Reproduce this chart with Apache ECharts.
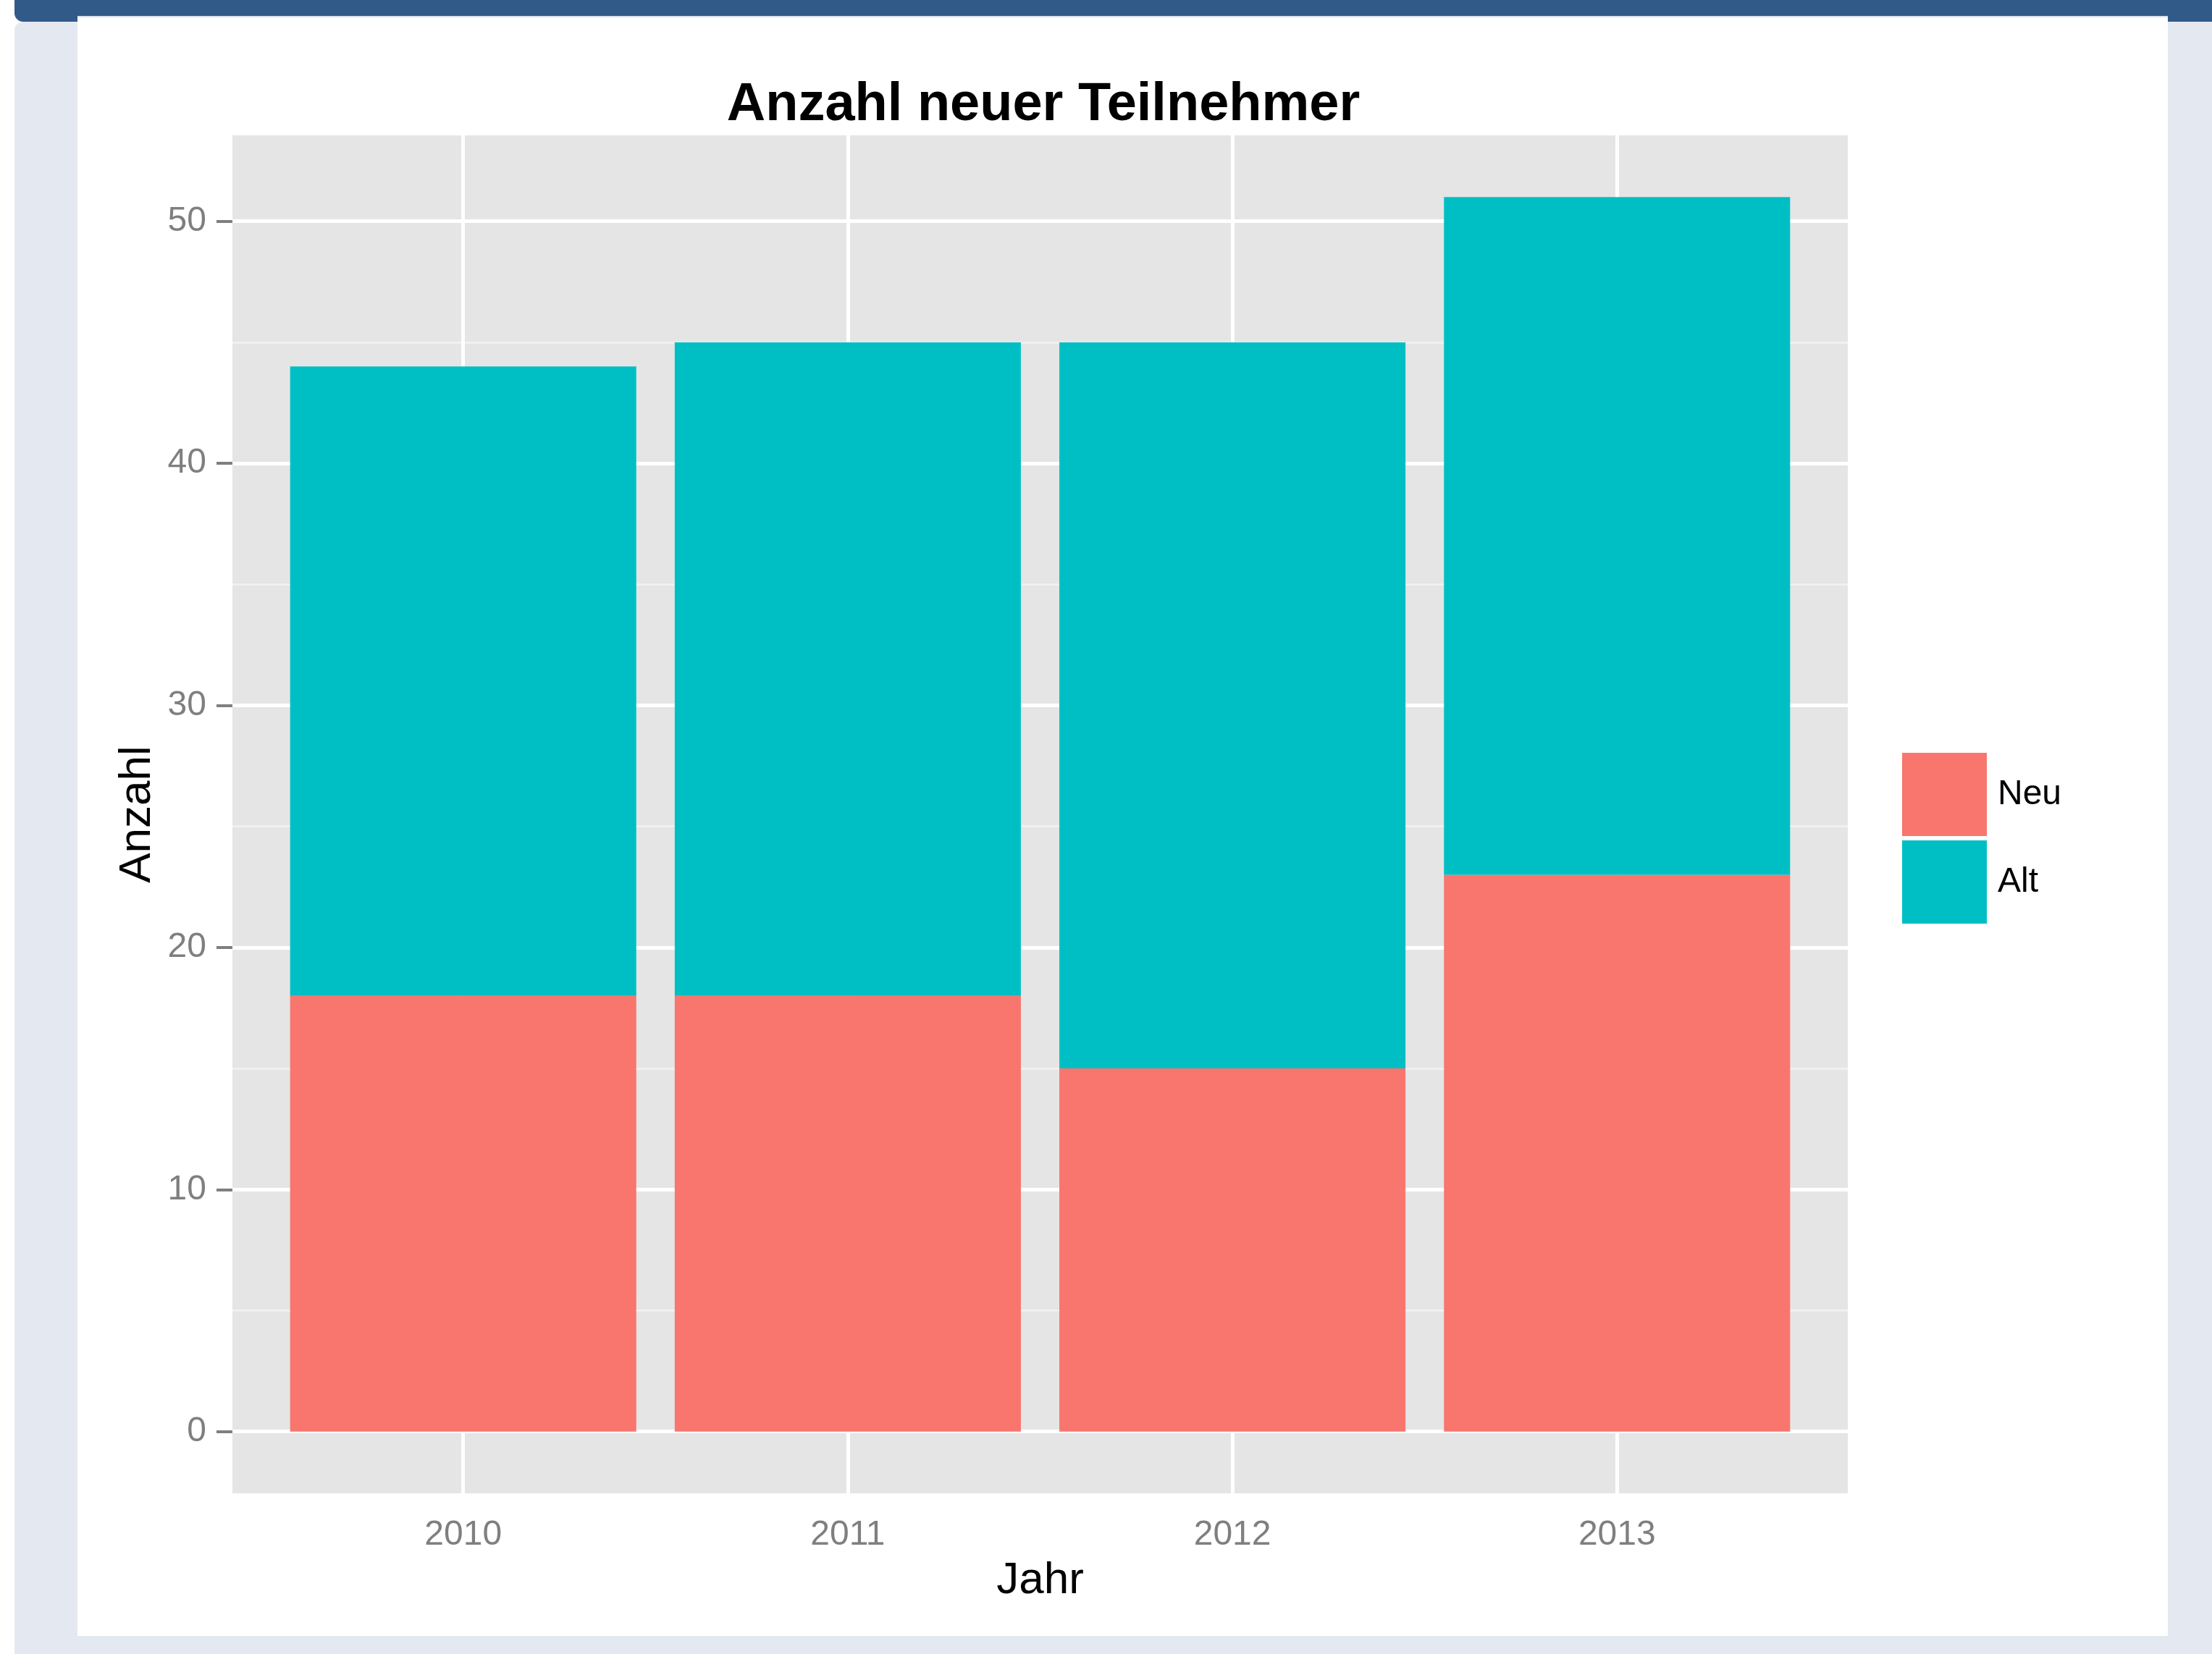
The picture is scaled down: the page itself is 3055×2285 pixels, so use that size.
<!DOCTYPE html>
<html>
<head>
<meta charset="utf-8">
<title>Anzahl neuer Teilnehmer</title>
<script src="https://cdn.jsdelivr.net/npm/echarts@6/dist/echarts.min.js"></script>
<style>
  html, body { margin: 0; padding: 0; background: #fff; }
  #page { position: relative; width: 3055px; height: 2285px; overflow: hidden; }
  .topbar { position: absolute; left: 20px; top: 0; right: 0; height: 30px; background: #325a89; border-bottom-left-radius: 12px; }
  .frame { position: absolute; left: 20px; top: 30px; right: 0; bottom: 0; background: #e4e9f1; border-top-left-radius: 12px; }
  .panel { position: absolute; left: 107px; top: 22px; right: 61px; bottom: 25px; background: #fff; border-top: 2px solid #dbe2ec; }
  #chart { position: absolute; left: 0; top: 0; width: 3055px; height: 2285px; }
</style>
</head>
<body>
<div id="page">
  <div class="topbar"></div>
  <div class="frame"></div>
  <div class="panel"></div>
  <div id="chart"></div>
</div>
<script>
// Daten
const years = ['2010', '2011', '2012', '2013']
const neu = [18, 18, 15, 23]
const alt = [26, 27, 30, 28]
const yTicks = [0, 10, 20, 30, 40, 50]
const yMinorTicks = [5, 15, 25, 35, 45]

const font = 'Liberation Sans, Arial, Helvetica, sans-serif'
const xPos = years.map((y, i) => i + 1)

let myChart = echarts.init(document.getElementById('chart'))

// Gitterlinien wie bei ggplot (unter den Balken)
const gridLines = [
  ...yTicks.map(v => ({ yAxis: v, lineStyle: { color: '#ffffff', width: 5, type: 'solid' } })),
  ...yMinorTicks.map(v => ({ yAxis: v, lineStyle: { color: '#f2f2f2', width: 2.5, type: 'solid' } })),
  ...xPos.map(v => ({ xAxis: v, lineStyle: { color: '#ffffff', width: 5, type: 'solid' } }))
]

// Wert zuerst, damit auf y gestapelt wird (x ist hier auch eine Werteachse)
const toData = (arr) => arr.map((v, i) => [v, xPos[i]])

let option = {
  animation: false,
  title: {
    text: 'Anzahl neuer Teilnehmer',
    left: 1436,
    top: 104,
    textAlign: 'center',
    textStyle: { fontFamily: font, fontSize: 74, fontWeight: 'bold', color: '#000' }
  },
  legend: {
    orient: 'vertical',
    left: 2622,
    top: 1035,
    icon: 'rect',
    itemWidth: 117,
    itemHeight: 115,
    itemGap: 6,
    data: ['Neu', 'Alt'],
    textStyle: { fontFamily: font, fontSize: 48, color: '#000', padding: [0, 0, 0, 10] }
  },
  grid: {
    left: 321,
    right: 503,
    top: 187,
    bottom: 222,
    show: true,
    backgroundColor: '#e5e5e5',
    borderWidth: 0,
    containLabel: false
  },
  xAxis: {
    type: 'value',
    min: 0.4,
    max: 4.6,
    name: 'Jahr',
    nameLocation: 'middle',
    nameGap: 90,
    nameTextStyle: { fontFamily: font, fontSize: 62, color: '#000' },
    splitLine: { show: false },
    axisLine: { show: false },
    axisTick: {
      show: true,
      customValues: xPos,
      length: 22,
      lineStyle: { color: '#7f7f7f', width: 4 }
    },
    axisLabel: {
      customValues: xPos,
      margin: 34,
      fontFamily: font,
      fontSize: 48,
      color: '#7f7f7f',
      formatter: (v) => years[Math.round(v) - 1] || ''
    }
  },
  yAxis: {
    type: 'value',
    min: -2.55,
    max: 53.55,
    name: 'Anzahl',
    nameLocation: 'middle',
    nameRotate: 90,
    nameGap: 100,
    nameTextStyle: { fontFamily: font, fontSize: 62, color: '#000' },
    splitLine: { show: false },
    axisLine: { show: false },
    axisTick: {
      show: true,
      customValues: yTicks,
      length: 22,
      lineStyle: { color: '#7f7f7f', width: 4 }
    },
    axisLabel: {
      customValues: yTicks,
      margin: 36,
      fontFamily: font,
      fontSize: 48,
      color: '#7f7f7f'
    }
  },
  series: [
    {
      name: 'Neu',
      type: 'bar',
      stack: 'total',
      barWidth: '90%',
      encode: { x: 1, y: 0 },
      itemStyle: { color: '#F8766D' },
      data: toData(neu),
      markLine: {
        silent: true,
        z: 1,
        symbol: ['none', 'none'],
        label: { show: false },
        emphasis: { disabled: true },
        data: gridLines
      }
    },
    {
      name: 'Alt',
      type: 'bar',
      stack: 'total',
      barWidth: '90%',
      encode: { x: 1, y: 0 },
      itemStyle: { color: '#00BFC4' },
      data: toData(alt)
    }
  ]
}
myChart.setOption(option)
</script>
</body>
</html>
